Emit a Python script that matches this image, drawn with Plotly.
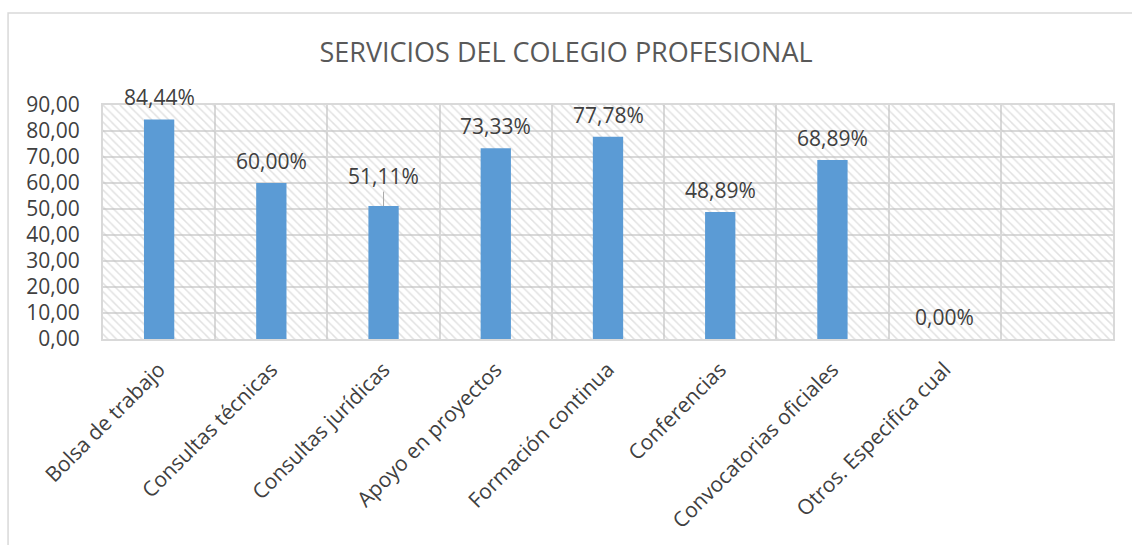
import plotly.graph_objects as go

categories = ["Bolsa de trabajo", "Consultas técnicas", "Consultas jurídicas",
              "Apoyo en proyectos", "Formación continua", "Conferencias",
              "Convocatorias oficiales", "Otros. Especifica cual"]
values = [84.44, 60.00, 51.11, 73.33, 77.78, 48.89, 68.89, 0.00]
n_slots = 9  # the chart has one extra empty column on the right
y_max = 90
y_ticks = list(range(0, 91, 10))

FONT = "Open Sans"
TXT = "#404040"
GRID = "#d9d9d9"

x_idx = list(range(len(categories)))
x0, x1 = -0.5, n_slots - 0.5

fig = go.Figure()

# hatched plot-area background (a single full-width bar under the data)
fig.add_trace(go.Bar(
    x=[(x0 + x1) / 2], y=[y_max], width=[x1 - x0],
    marker=dict(color="rgba(0,0,0,0)", line=dict(width=0),
                pattern=dict(shape="\\", fgcolor="#c4c4c4",
                             bgcolor="rgba(0,0,0,0)", size=6, solidity=0.25)),
    hoverinfo="skip", showlegend=False))

fig.add_trace(go.Bar(
    x=x_idx, y=values, width=0.27,
    marker=dict(color="#5b9bd5", line=dict(width=0)),
    showlegend=False))

# data labels
label_shift = {2: 30}  # one label in the reference sits higher, with a leader line
for i, v in zip(x_idx, values):
    txt = f"{v:.2f}".replace(".", ",") + "%"
    if i in label_shift:
        fig.add_annotation(x=i, y=v, text=txt, showarrow=True, arrowhead=0,
                           arrowwidth=1, arrowcolor="#a6a6a6", ax=0,
                           ay=-label_shift[i], standoff=0,
                           font=dict(family=FONT, size=21, color=TXT))
    else:
        fig.add_annotation(x=i, y=v, text=txt, showarrow=False,
                           yanchor="middle", yshift=22,
                           font=dict(family=FONT, size=21, color=TXT))

fig.update_layout(
    width=1132, height=545,
    margin=dict(l=103, r=19, t=105, b=206),
    paper_bgcolor="white", plot_bgcolor="white",
    separators=",.",
    barmode="overlay",
    title=dict(text="SERVICIOS DEL COLEGIO PROFESIONAL",
               font=dict(family=FONT, size=27, color="#595959"),
               x=0.5, xanchor="center", y=0.903, yanchor="middle"),
    xaxis=dict(range=[x0, x1], tickmode="array", tickvals=x_idx,
               ticktext=categories, tickangle=-45,
               tickfont=dict(family=FONT, size=21, color=TXT),
               ticklabelstandoff=8,
               showgrid=False, zeroline=False, ticks="",
               showline=True, linecolor=GRID, linewidth=2, mirror=True,
               minor=dict(tickmode="array",
                          tickvals=[i - 0.5 for i in range(n_slots + 1)],
                          showgrid=True, gridcolor=GRID, gridwidth=2, ticks="")),
    yaxis=dict(range=[0, y_max], tickmode="array", tickvals=y_ticks,
               tickformat=".2f",
               tickfont=dict(family=FONT, size=21, color=TXT),
               ticklabelstandoff=17,
               showgrid=True, gridcolor=GRID, gridwidth=2,
               zeroline=False, ticks="", ticklen=0,
               showline=True, linecolor=GRID, linewidth=2, mirror=True),
)

# outer chart border (top/left visible)
fig.add_shape(type="rect", xref="paper", yref="paper",
              x0=-0.094, x1=1.05, y0=-1.2, y1=1.393,
              line=dict(color=GRID, width=1.5), fillcolor="rgba(0,0,0,0)",
              layer="below")

fig.write_html("out.html", config={"displayModeBar": False},
               post_script="document.body.style.margin='0';"
                           "document.body.style.padding='0';")
